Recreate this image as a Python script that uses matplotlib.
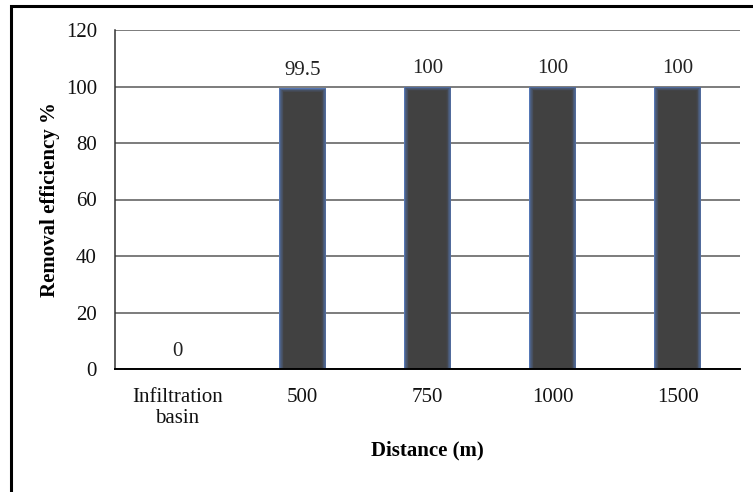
import matplotlib
matplotlib.use("Agg")
import matplotlib.pyplot as plt
import numpy as np
from matplotlib.colors import to_rgb
from matplotlib.patches import Rectangle

categories = ["Infiltration\nbasin", "500", "750", "1000", "1500"]
values = [0, 99.5, 100, 100, 100]
value_labels = ["0", "99.5", "100", "100", "100"]
yticks = [0, 20, 40, 60, 80, 100, 120]

plt.rcParams["font.family"] = ["Liberation Serif", "DejaVu Serif"]
FS = 15

fig = plt.figure(figsize=(7.53, 4.92), dpi=100)
fig.patch.set_facecolor("white")

# frame around the whole chart area
fig.patches.append(Rectangle((10.5 / 753, -0.1), 1.2, 1.1 - 5.5 / 492,
                             transform=fig.transFigure, fill=False,
                             edgecolor="black", linewidth=2.2, zorder=0))

ax = fig.add_axes([115 / 753, 1 - 369 / 492, 625 / 753, (369 - 30) / 492])
x = np.arange(len(categories))
vals = np.array(values, dtype=float)

# bars with a soft blue rim fading into the dark fill
edge_c = np.array(to_rgb("#5577b5"))
core_c = np.array(to_rgb("#414141"))
bar_w = 0.38
n_layers = 8
for i in range(n_layers):
    t = i / (n_layers - 1)
    t = 1 - (1 - t) ** 1.6
    c = edge_c * (1 - t) + core_c * t
    inset_x = 0.006 * i
    inset_y = 0.22 * i
    h = np.where(vals > 0, np.maximum(vals - inset_y, 0), 0)
    ax.bar(x, h, width=bar_w - 2 * inset_x, color=c, linewidth=0, zorder=2 + i * 0.01)

for xi, v, lab in zip(x, values, value_labels):
    ax.annotate(lab, (xi, v), xytext=(0, 6), textcoords="offset points",
                ha="center", va="bottom", fontsize=FS, color="#222222")

ax.set_xlim(-0.5, len(categories) - 0.5)
ax.set_ylim(0, 120)
ax.set_yticks(yticks)
ax.set_xticks(x)
ax.set_xticklabels(categories, fontsize=FS, linespacing=1.12)
ax.tick_params(axis="y", labelsize=FS, length=0, pad=13, colors="#111111")
ax.tick_params(axis="x", length=0, pad=14, colors="#111111")

ax.grid(axis="y", color="#595959", linewidth=1.1, zorder=1)
ax.set_axisbelow(True)
for s in ["top", "right"]:
    ax.spines[s].set_visible(False)
ax.spines["left"].set_color("#333333")
ax.spines["left"].set_linewidth(1.1)
ax.spines["bottom"].set_color("black")
ax.spines["bottom"].set_linewidth(1.4)
ax.spines["bottom"].set_zorder(4)

ax.set_xlabel("Distance (m)", fontsize=FS, fontweight="bold", labelpad=9)
ax.set_ylabel("Removal efficiency %", fontsize=FS, fontweight="bold", labelpad=4)

fig.savefig("out.png", dpi=100)
